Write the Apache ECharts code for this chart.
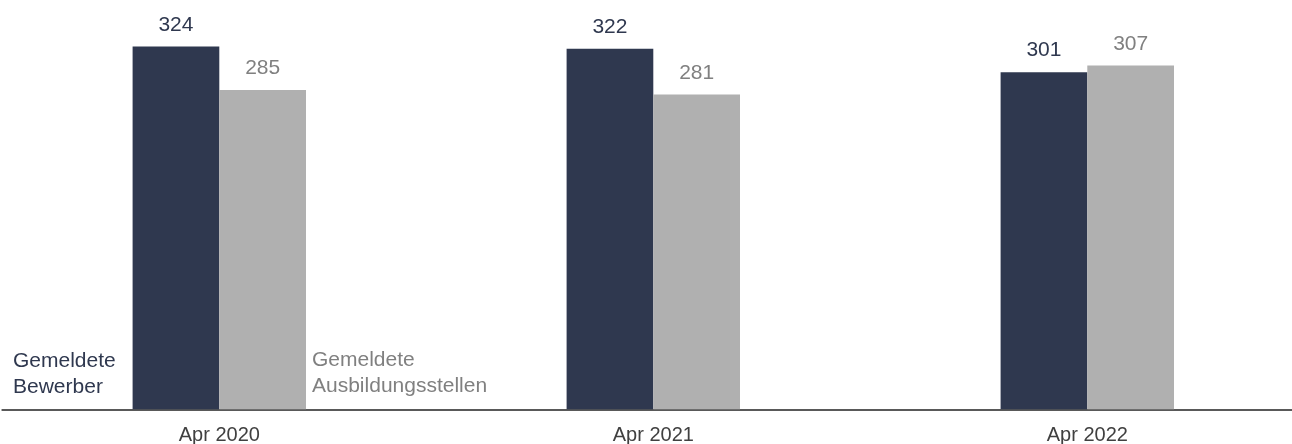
<!DOCTYPE html>
<html>
<head>
<meta charset="utf-8">
<script src="https://cdn.jsdelivr.net/npm/echarts@6/dist/echarts.min.js"></script>
<style>
html,body{margin:0;padding:0;background:#fff;}
#chart{width:1292px;height:444px;}
</style>
</head>
<body>
<div id="chart"></div>
<script>
var categories = ['Apr 2020', 'Apr 2021', 'Apr 2022'];
var bewerber = [324, 322, 301];
var stellen = [285, 281, 307];
var seriesNames = ['Gemeldete\nBewerber', 'Gemeldete\nAusbildungsstellen'];

var DARK = '#2f384f';
var GREY = '#b0b0b0';
var FONT = 'Liberation Sans, Arial, sans-serif';

var chart = echarts.init(document.getElementById('chart'), null, {renderer: 'canvas'});
chart.setOption({
  animation: false,
  backgroundColor: '#fff',
  grid: {left: 2.3, width: 1302, top: 6.1, bottom: 34.7, containLabel: false, outerBoundsMode: 'none'},
  xAxis: {
    type: 'category',
    data: categories,
    axisLine: {lineStyle: {color: '#595959', width: 2}},
    axisTick: {show: false},
    axisLabel: {color: '#404040', fontSize: 20, fontFamily: FONT, margin: 16}
  },
  yAxis: {
    type: 'value', min: 0, max: 360,
    show: false, splitLine: {show: false}
  },
  series: [
    {
      name: seriesNames[0], type: 'bar', data: bewerber,
      barWidth: 86.7, barGap: '0%',
      itemStyle: {color: DARK},
      label: {show: true, position: 'top', distance: 11, color: DARK, fontSize: 21, fontFamily: FONT}
    },
    {
      name: seriesNames[1], type: 'bar', data: stellen,
      barWidth: 86.7, barGap: '0%',
      itemStyle: {color: GREY},
      label: {show: true, position: 'top', distance: 11, color: '#808080', fontSize: 21, fontFamily: FONT}
    }
  ],
  graphic: [
    {type: 'text', left: 13, top: 348, style: {text: seriesNames[0], fill: DARK, font: '21px ' + FONT, lineHeight: 26}},
    {type: 'text', left: 312, top: 347, style: {text: seriesNames[1], fill: '#808080', font: '21px ' + FONT, lineHeight: 26}}
  ]
});
</script>
</body>
</html>
